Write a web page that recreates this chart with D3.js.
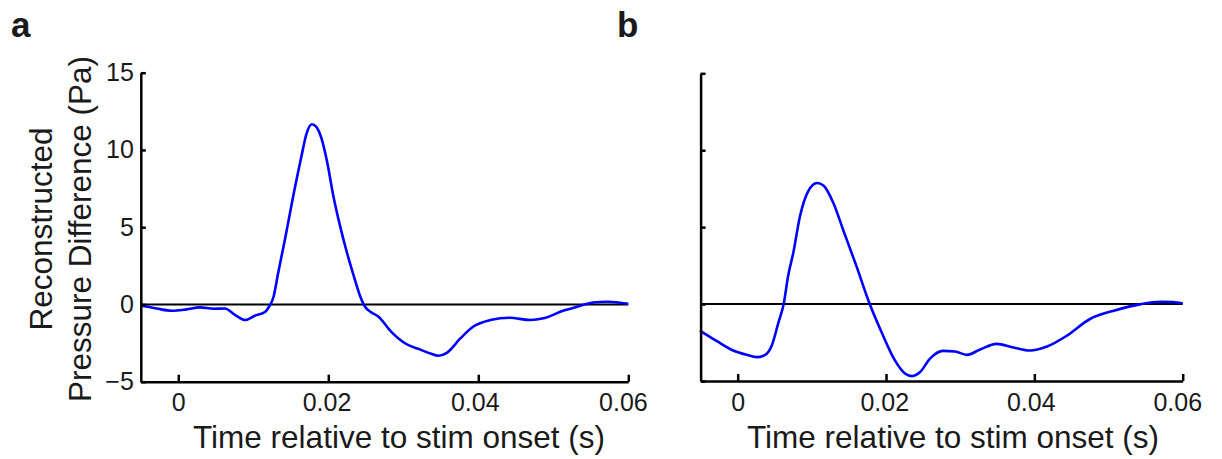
<!DOCTYPE html>
<html>
<head>
<meta charset="utf-8">
<script src="https://cdn.jsdelivr.net/npm/d3@7"></script>
<style>
  body { margin: 0; background: #fff; }
  svg { display: block; font-family: "Liberation Sans", Arial, sans-serif; }
  .axis path, .axis line { stroke: #000; stroke-width: 2.5px; }
  .axis text { font-size: 25px; fill: #1a1a1a; font-family: "Liberation Sans", Arial, sans-serif; }
</style>
</head>
<body>
<script>
// panel a: time (s) and pressure difference (Pa)
const timeA = [-0.0049, -0.0029, -0.0009, 0.0011, 0.0029, 0.0047, 0.0062, 0.0076, 0.0089, 0.0102,
  0.0116, 0.0121, 0.0127, 0.0133, 0.0142, 0.0153, 0.0164, 0.0171, 0.0178, 0.0184,
  0.0191, 0.0198, 0.0207, 0.0216, 0.0224, 0.0233, 0.0242, 0.0249, 0.0256, 0.0267,
  0.0284, 0.0304, 0.0322, 0.0336, 0.0347, 0.0358, 0.0376, 0.0393, 0.0416, 0.0442,
  0.0469, 0.0487, 0.0513, 0.0536, 0.0553, 0.0571, 0.0589, 0.06];
const pressA = [-0.09, -0.26, -0.41, -0.32, -0.19, -0.28, -0.26, -0.69, -1.01, -0.73,
  -0.47, -0.15, 0.5, 2.0, 4.16, 6.96, 9.55, 11.06, 11.66, 11.49,
  10.73, 9.33, 6.96, 5.02, 3.51, 2.0, 0.6, -0.15, -0.47, -0.8,
  -1.77, -2.56, -2.91, -3.17, -3.32, -3.13, -2.2, -1.44, -1.01, -0.86,
  -1.01, -0.9, -0.41, -0.09, 0.13, 0.17, 0.11, 0.04];

// panel b
const timeB = [-0.0051, -0.0028, -0.0006, 0.0012, 0.0026, 0.0037, 0.0046, 0.0055, 0.0062, 0.0068,
  0.0075, 0.0084, 0.0095, 0.0107, 0.0116, 0.0129, 0.0142, 0.016, 0.0178, 0.0194,
  0.0212, 0.0226, 0.0235, 0.0246, 0.0259, 0.0277, 0.0293, 0.0309, 0.0327, 0.0349,
  0.0372, 0.0394, 0.0417, 0.0444, 0.0475, 0.0507, 0.0542, 0.057, 0.0587, 0.06];
const pressB = [-1.72, -2.41, -3.02, -3.30, -3.45, -3.30, -2.69, -1.19, 0, 1.83,
  3.34, 5.71, 7.33, 7.87, 7.69, 6.57, 4.85, 2.48, 0, -1.83,
  -3.66, -4.53, -4.68, -4.42, -3.56, -3.04, -3.08, -3.30, -2.95, -2.59,
  -2.82, -3.02, -2.76, -2.05, -0.97, -0.43, -0.02, 0.15, 0.13, 0.04];

const xTicks = [0, 0.02, 0.04, 0.06];
const yTicks = [-5, 0, 5, 10, 15];
const xDomain = [-0.005, 0.06];
const yDomain = [-5, 15];

const w = 1222, h = 459;
const svg = d3.select("body").append("svg")
  .attr("width", w)
  .attr("height", h);

function panel(opts) {
  const x = d3.scaleLinear().domain(xDomain).range(opts.xr);
  const y = d3.scaleLinear().domain(yDomain).range(opts.yr);
  const g = svg.append("g");

  // zero line
  g.append("line")
    .attr("x1", x(xDomain[0])).attr("x2", x(xDomain[1]))
    .attr("y1", y(0)).attr("y2", y(0))
    .attr("stroke", "#000").attr("stroke-width", 2);

  const pts = opts.t.map((t, i) => [t, opts.v[i]]);
  g.append("path")
    .datum(pts)
    .attr("fill", "none")
    .attr("stroke", "#0000ff")
    .attr("stroke-width", 2.6)
    .attr("d", d3.line().x(d => x(d[0])).y(d => y(d[1])).curve(d3.curveMonotoneX));

  const xAxis = d3.axisBottom(x).tickValues(xTicks).tickSizeInner(-7).tickSizeOuter(0)
    .tickPadding(12).tickFormat(d => d === 0 ? "0" : d3.format(".2f")(d));
  g.append("g").attr("class", "axis")
    .attr("transform", "translate(0," + y(yDomain[0]) + ")")
    .call(xAxis)
    .selectAll("text").attr("dx", d => -d * 90);

  const yAxis = d3.axisLeft(y).tickValues(yTicks).tickSizeInner(-5).tickSizeOuter(0)
    .tickPadding(7).tickFormat(opts.yLabels ? d3.format("d") : "");
  g.append("g").attr("class", "axis")
    .attr("transform", "translate(" + x(xDomain[0]) + ",0)")
    .call(yAxis);

  g.append("text")
    .attr("x", opts.xlabX).attr("y", 448)
    .attr("text-anchor", "middle")
    .style("font-size", "31.5px").style("fill", "#1a1a1a")
    .text("Time relative to stim onset (s)");

  g.append("text")
    .attr("x", opts.tagX).attr("y", 37)
    .style("font-size", "35px").style("font-weight", "bold").style("fill", "#1a1a1a")
    .text(opts.tag);
}

panel({ xr: [140.8, 628.3], yr: [381.7, 72.7], t: timeA, v: pressA, yLabels: true, xlabX: 399, tag: "a", tagX: 11 });
panel({ xr: [700.6, 1182.7], yr: [381, 73.3], t: timeB, v: pressB, yLabels: false, xlabX: 953, tag: "b", tagX: 617 });

// y axis title, two lines
const ylab = svg.append("text")
  .attr("transform", "translate(0,229) rotate(-90)")
  .attr("text-anchor", "middle")
  .style("font-size", "31.5px").style("fill", "#1a1a1a");
ylab.append("tspan").attr("x", 0).attr("y", 52).text("Reconstructed");
ylab.append("tspan").attr("x", 0).attr("y", 91).text("Pressure Difference (Pa)");
</script>
</body>
</html>
